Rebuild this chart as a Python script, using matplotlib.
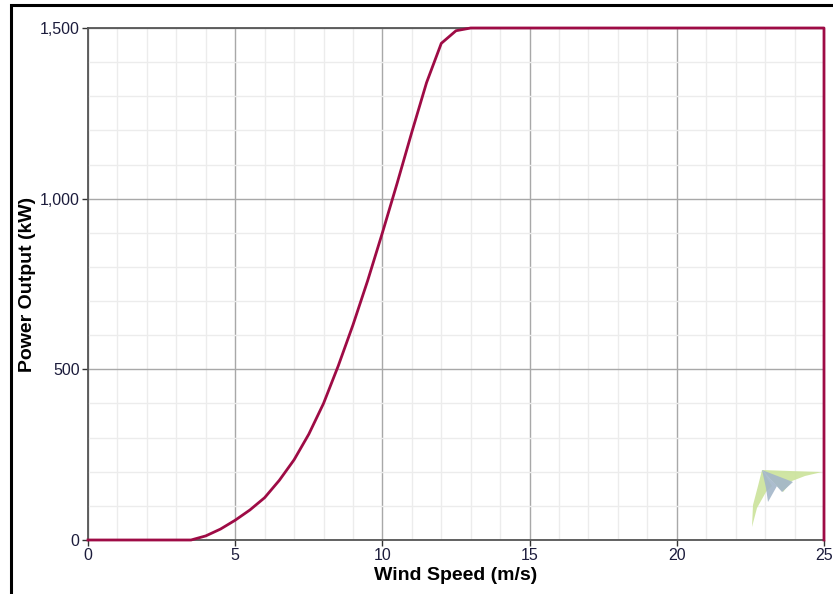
import matplotlib
matplotlib.use("Agg")
import matplotlib.pyplot as plt
from matplotlib.patches import Polygon, Rectangle
from matplotlib.ticker import MultipleLocator, FuncFormatter

# Data
wind_speed = [0, 0.5, 1, 1.5, 2, 2.5, 3, 3.5, 4, 4.5, 5, 5.5, 6, 6.5, 7, 7.5, 8, 8.5,
              9, 9.5, 10, 10.5, 11, 11.5, 12, 12.5, 13, 14, 15, 16, 17, 18, 19, 20,
              21, 22, 23, 24, 25, 25]
power_kw = [0, 0, 0, 0, 0, 0, 0, 0, 12, 32, 58, 88, 124, 175, 235, 310, 400, 510,
            630, 760, 900, 1045, 1195, 1340, 1455, 1492, 1500, 1500, 1500, 1500, 1500, 1500, 1500, 1500,
            1500, 1500, 1500, 1500, 1500, 0]
x_ticks = [0, 5, 10, 15, 20, 25]
y_ticks = [0, 500, 1000, 1500]

plt.rcParams['font.family'] = ['Liberation Sans', 'DejaVu Sans']

W, H = 833, 594
fig = plt.figure(figsize=(W / 100, H / 100), dpi=100)
ax = fig.add_axes([88 / W, 1 - 540 / H, (824 - 88) / W, (540 - 28) / H])

# outer frame
fig.patches.append(Rectangle((11 / W, -0.1), 1.2, (H - 5) / H + 0.1, transform=fig.transFigure,
                             fill=False, edgecolor='black', linewidth=2.2, zorder=0))

ax.set_xlim(0, 25)
ax.set_ylim(0, 1500)
ax.set_xticks(x_ticks)
ax.set_yticks(y_ticks)
ax.xaxis.set_minor_locator(MultipleLocator(1))
ax.yaxis.set_minor_locator(MultipleLocator(100))
ax.yaxis.set_major_formatter(FuncFormatter(lambda v, p: f"{int(v):,}"))

ax.grid(which='minor', color='#ececec', linewidth=1.0)
ax.grid(which='major', color='#a8a8a8', linewidth=1.0)
ax.set_axisbelow(True)

for s in ['left', 'bottom', 'top']:
    ax.spines[s].set_color('#555555')
    ax.spines[s].set_linewidth(1.3)
ax.spines['right'].set_visible(False)

ax.tick_params(which='major', direction='out', length=4, width=1, color='#333333',
               labelsize=11.5, labelcolor='#1c1c3c', pad=2)
ax.tick_params(which='minor', length=0)

# logo watermark
def px(pts):
    return [((x - 88) / 736, (540 - y) / 512) for x, y in pts]

green = '#cbe39a'
blue = '#a3b6c9'
for pts, col in [
    ([(762, 470), (772, 486), (766, 492), (757, 508), (752, 527), (753, 505), (758, 486)], green),
    ([(762, 470), (790, 471), (822, 472), (805, 476), (792, 481), (783, 492)], green),
    ([(762, 470), (777, 486), (768, 502), (766, 488)], blue),
    ([(762, 470), (793, 482), (782, 492)], blue),
]:
    ax.add_patch(Polygon(px(pts), closed=True, transform=ax.transAxes,
                         facecolor=col, edgecolor='none', alpha=0.9, zorder=1))

ax.plot(wind_speed, power_kw, color='#9e0b45', linewidth=2.0, zorder=5, clip_on=False)

ax.set_xlabel('Wind Speed (m/s)', fontsize=14, fontweight='bold', labelpad=3)
ax.set_ylabel('Power Output (kW)', fontsize=14, fontweight='bold', labelpad=3)

fig.savefig('out.png', dpi=100)
